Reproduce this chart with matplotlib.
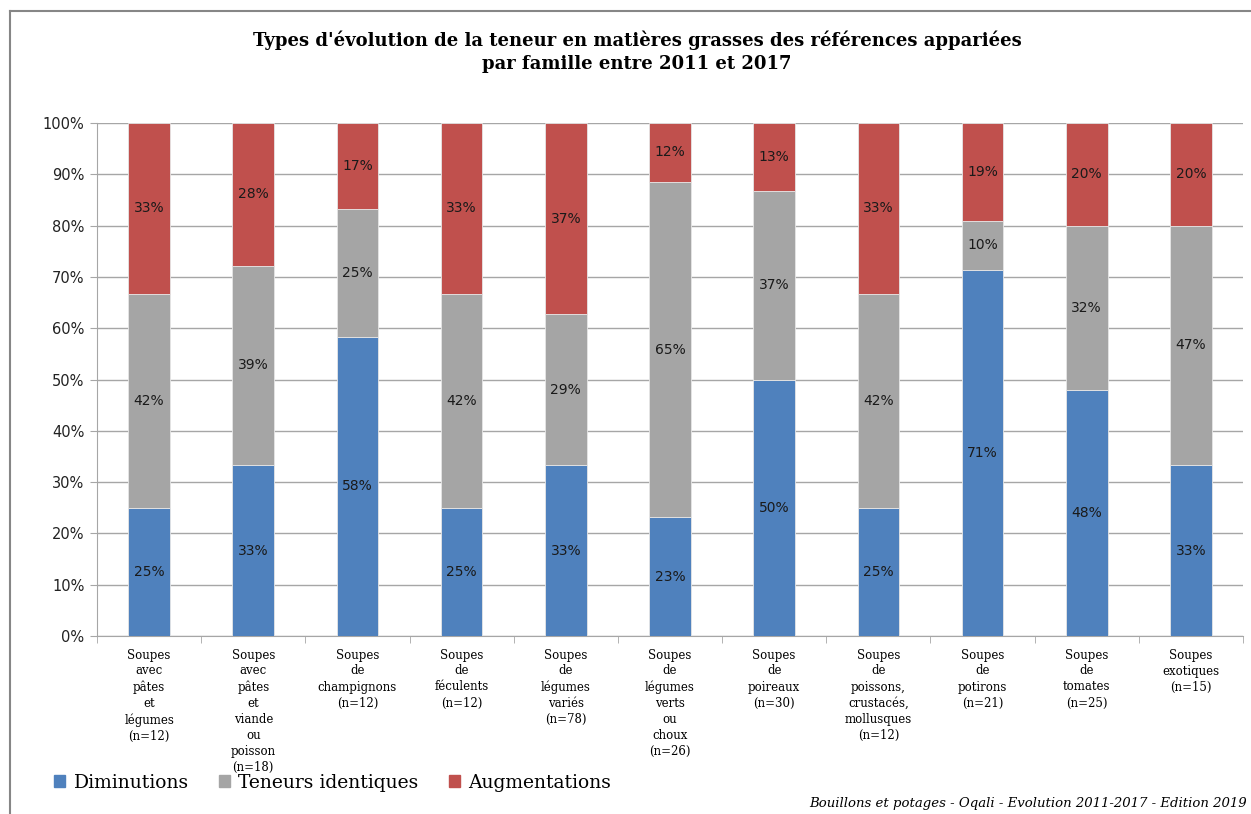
import matplotlib.pyplot as plt
import numpy as np
from matplotlib.lines import Line2D
from matplotlib.patches import Patch

categories = [
    "Soupes\navec\npâtes\net\nlégumes\n(n=12)",
    "Soupes\navec\npâtes\net\nviande\nou\npoisson\n(n=18)",
    "Soupes\nde\nchampignons\n(n=12)",
    "Soupes\nde\nféculents\n(n=12)",
    "Soupes\nde\nlégumes\nvariés\n(n=78)",
    "Soupes\nde\nlégumes\nverts\nou\nchoux\n(n=26)",
    "Soupes\nde\npoireaux\n(n=30)",
    "Soupes\nde\npoissons,\ncrustacés,\nmollusques\n(n=12)",
    "Soupes\nde\npotirons\n(n=21)",
    "Soupes\nde\ntomates\n(n=25)",
    "Soupes\nexotiques\n(n=15)",
]
diminutions = [25.0, 33.3, 58.3, 25.0, 33.3, 23.1, 50.0, 25.0, 71.4, 48.0, 33.3]
identiques = [41.7, 38.9, 25.0, 41.7, 29.4, 65.4, 36.7, 41.7, 9.5, 32.0, 46.7]
augmentations = [33.3, 27.8, 16.7, 33.3, 37.3, 11.5, 13.3, 33.3, 19.1, 20.0, 20.0]

series = [("Diminutions", diminutions, "#4F81BD"),
          ("Teneurs identiques", identiques, "#A5A5A5"),
          ("Augmentations", augmentations, "#C0504D")]

fig = plt.figure(figsize=(12.51, 8.14), dpi=100)
ax = fig.add_axes([97 / 1251, 1 - 636 / 814, (1243 - 97) / 1251, (636 - 123) / 814])

x = np.arange(len(categories))
bottom = np.zeros(len(categories))
for name, vals, col in series:
    vals = np.array(vals)
    ax.bar(x, vals, 0.4, bottom=bottom, color=col, edgecolor="#E6E6E6",
           linewidth=0.6, zorder=3, label=name)
    for xi, b, v in zip(x, bottom, vals):
        ax.text(xi, b + v / 2, f"{round(v):.0f}%", ha="center", va="center",
                fontsize=10, color="#1a1a1a", family="DejaVu Sans", zorder=4)
    bottom += vals

ax.set_xlim(-0.5, len(categories) - 0.5)
ax.set_ylim(0, 100)
ax.set_yticks(np.arange(0, 101, 10))
ax.set_yticklabels([f"{v}%" for v in range(0, 101, 10)], fontsize=10.5,
                   family="DejaVu Sans", color="#222222")
ax.yaxis.grid(True, color="#A6A6A6", linewidth=1, zorder=0)

ax.set_xticks(x)
ax.set_xticklabels(categories, fontsize=8.5, family="DejaVu Serif",
                   linespacing=1.3, va="top")
ax.tick_params(axis="x", length=0, pad=9)
ax.set_xticks(np.arange(-0.5, len(categories)), minor=True)
ax.tick_params(axis="x", which="minor", length=5, color="#A6A6A6")
ax.tick_params(axis="y", length=5, color="#A6A6A6", pad=4)

for s in ["top", "right"]:
    ax.spines[s].set_visible(False)
for s in ["left", "bottom"]:
    ax.spines[s].set_color("#A6A6A6")

fig.text(637 / 1251, 1 - 31 / 814, "Types d'évolution de la teneur en matières grasses des références appariées\npar famille entre 2011 et 2017",
         ha="center", va="top", fontsize=13, fontweight="bold",
         family="DejaVu Serif", linespacing=1.35)

handles = [Patch(color=c, label=n) for n, _, c in series]
fig.legend(handles=handles, loc="center left", bbox_to_anchor=(37 / 1251, 1 - 783 / 814),
           ncol=3, frameon=False, prop={"family": "DejaVu Serif", "size": 13.5},
           handlelength=0.6, handleheight=0.6, handletextpad=0.45, columnspacing=1.6)

fig.text(1247 / 1251, 1 - 803 / 814, "Bouillons et potages - Oqali - Evolution 2011-2017 - Edition 2019",
         ha="right", va="center", fontsize=9.5, style="italic", family="DejaVu Serif")

fig.add_artist(Line2D([10 / 1251, 1], [1 - 11 / 814, 1 - 11 / 814], color="#868686", linewidth=1.5))
fig.add_artist(Line2D([10 / 1251, 10 / 1251], [0, 1 - 11 / 814], color="#868686", linewidth=1.5))

fig.savefig("out.png", dpi=100)
